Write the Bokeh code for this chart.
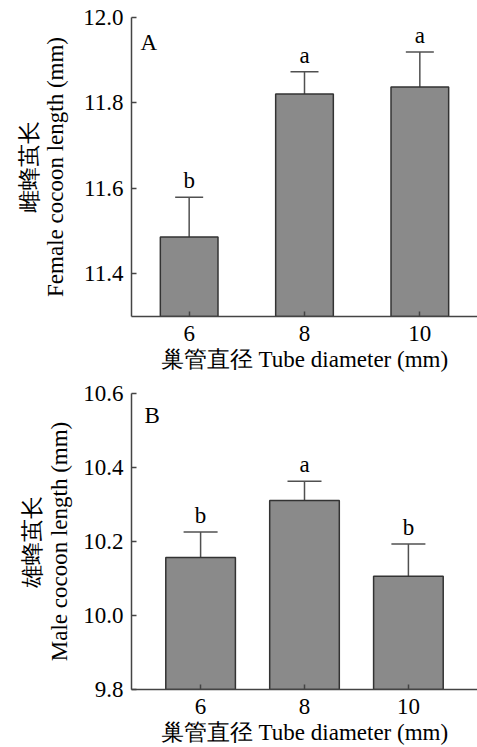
from bokeh.plotting import figure
from bokeh.layouts import column
from bokeh.models import (Range1d, FixedTicker, LinearAxis, Whisker, TeeHead,
                          ColumnDataSource, Label)
from bokeh.core.properties import value
from bokeh.embed import file_html
from bokeh.resources import INLINE

# ---- data ----
diameters = [6, 8, 10]
female_mean = [11.486, 11.821, 11.837]
female_err = [0.093, 0.052, 0.082]
female_letters = ["b", "a", "a"]
male_mean = [10.157, 10.311, 10.106]
male_err = [0.069, 0.052, 0.087]
male_letters = ["b", "a", "b"]

FONT = "Liberation Serif"
FS = "23px"
AXIS_COLOR = "#444444"


def make_panel(mean, err, letters, yr, yticks, xr, bar_w, cap_px, panel,
               ylab_cn, ylab_en, height, borders, y_std, cn_std, panel_off):
    left, top, bottom = borders
    p = figure(width=477, height=height, output_backend="svg",
               toolbar_location=None, x_range=Range1d(*xr), y_range=Range1d(*yr),
               min_border_left=left, min_border_right=0, min_border_top=top,
               min_border_bottom=bottom, y_axis_location=None, x_axis_location=None)
    p.outline_line_color = None
    p.grid.visible = False
    p.background_fill_color = "white"

    src = ColumnDataSource(dict(x=diameters, top=mean,
                                up=[m + e for m, e in zip(mean, err)],
                                lab=letters))
    p.vbar(x="x", top="top", bottom=yr[0], width=bar_w, source=src,
           fill_color="#8a8a8a", line_color="#333333", line_width=1.5)
    wh = Whisker(base="x", lower="top", upper="up", source=src,
                 line_color="#505050", line_width=1.5,
                 upper_head=TeeHead(size=cap_px, line_color="#505050", line_width=1.5),
                 lower_head=None)
    p.add_layout(wh)
    p.text(x="x", y="up", text="lab", source=src, text_font=value(FONT),
           text_font_size=FS, text_align="center", text_baseline="bottom",
           y_offset=-4, text_color="black")

    # axes
    yax = LinearAxis(ticker=FixedTicker(ticks=yticks), axis_label=ylab_en)
    yax.major_label_overrides = {t: f"{t:.1f}" for t in yticks}
    cn_ax = LinearAxis(ticker=FixedTicker(ticks=[]), axis_label=ylab_cn)
    xax = LinearAxis(ticker=FixedTicker(ticks=diameters),
                     axis_label="巢管直径 Tube diameter (mm)")
    for ax in (yax, xax, cn_ax):
        ax.axis_line_color = AXIS_COLOR
        ax.axis_line_width = 1.5
        ax.major_tick_line_color = AXIS_COLOR
        ax.major_tick_line_width = 1.5
        ax.major_tick_in = 5
        ax.major_tick_out = 0
        ax.minor_tick_line_color = None
        ax.major_label_text_font = FONT
        ax.major_label_text_font_size = FS
        ax.major_label_text_color = "black"
        ax.axis_label_text_font = FONT
        ax.axis_label_text_font_size = FS
        ax.axis_label_text_font_style = "normal"
        ax.axis_label_text_color = "black"
    cn_ax.axis_line_color = None
    cn_ax.major_tick_line_color = None
    cn_ax.axis_label_standoff = cn_std
    yax.major_label_standoff = 8
    yax.axis_label_standoff = y_std
    xax.major_label_standoff = 9
    xax.axis_label_standoff = 3
    p.add_layout(yax, "left")
    p.add_layout(cn_ax, "left")
    p.add_layout(xax, "below")

    p.add_layout(Label(x=xr[0], y=yr[1], x_offset=panel_off[0], y_offset=panel_off[1],
                       text=panel, text_font=FONT, text_font_size=FS,
                       text_baseline="middle", text_color="black"))
    return p


pA = make_panel(female_mean, female_err, female_letters, (11.3, 12.0),
                [11.4, 11.6, 11.8, 12.0], (5, 11), 1.0, 28, "A",
                "雌蜂茧长", "Female cocoon length (mm)", 374, (130, 17, 58),
                12, -1, (9, -25))
pB = make_panel(male_mean, male_err, male_letters, (9.8, 10.6),
                [9.8, 10.0, 10.2, 10.4, 10.6], (4.67, 11.33), 1.34, 34, "B",
                "雄蜂茧长", "Male cocoon length (mm)", 373, (131, 19, 58),
                8, 0, (13, -22))

layout = column(pA, pB, spacing=0)
open("out.html", "w").write(file_html(layout, INLINE))
